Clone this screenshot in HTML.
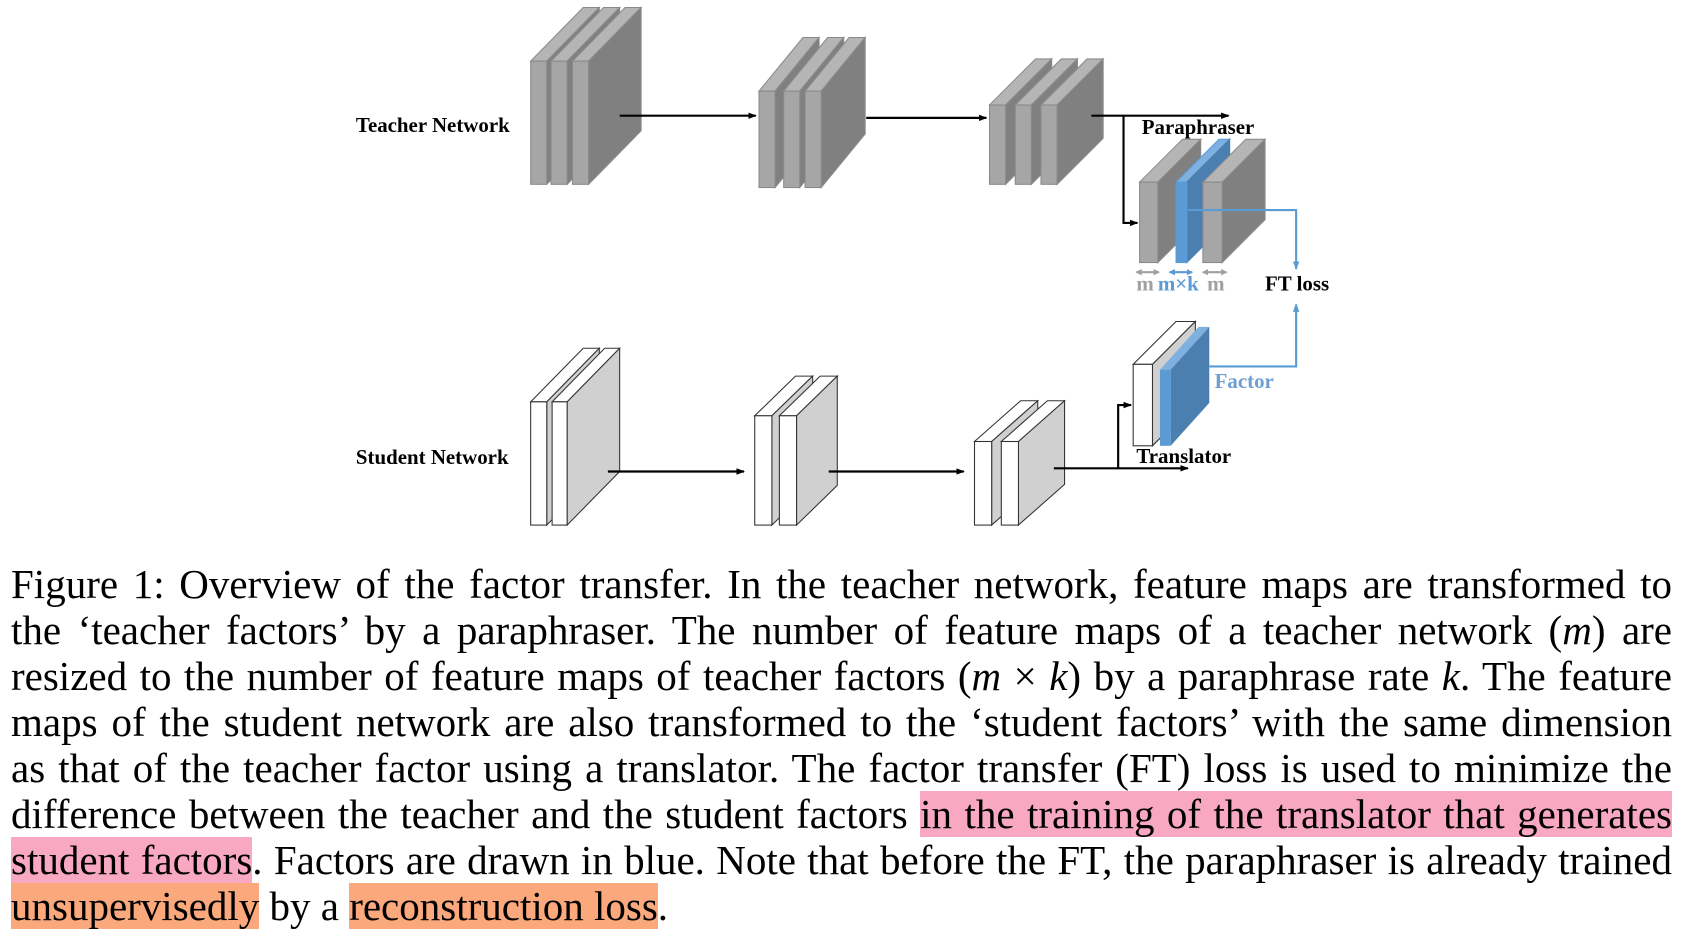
<!DOCTYPE html>
<html><head><meta charset="utf-8"><style>
html,body{margin:0;padding:0;background:#fff;width:1681px;height:943px;overflow:hidden}
svg{position:absolute;left:0;top:0}
.cap{position:absolute;left:11px;top:561px;width:1661px;font-family:"Liberation Serif",serif;font-size:41px;line-height:46px;color:#000}
.l{display:block;text-align:justify;text-align-last:justify;white-space:nowrap;height:46px}
.last{text-align-last:left}
.pk{background:#f9a8c2}.or{background:#fba97c}
</style></head><body>
<svg width="1681" height="943" viewBox="0 0 1568 880" preserveAspectRatio="none" font-family="Liberation Serif,serif" font-weight="bold">
<defs>
<marker id="ab" markerWidth="8" markerHeight="8" refX="7" refY="4" orient="auto" markerUnits="userSpaceOnUse"><path d="M0,1 L8,4 L0,7z" fill="#000"/></marker>
<marker id="ablue" markerWidth="8" markerHeight="8" refX="7" refY="4" orient="auto" markerUnits="userSpaceOnUse"><path d="M0,1 L8,4 L0,7z" fill="#5b9bd5"/></marker>
<marker id="sg" markerWidth="6" markerHeight="6" refX="5" refY="3" orient="auto-start-reverse" markerUnits="userSpaceOnUse"><path d="M0,0 L6,3 L0,6z" fill="#a0a0a0"/></marker>
<marker id="sb" markerWidth="6" markerHeight="6" refX="5" refY="3" orient="auto-start-reverse" markerUnits="userSpaceOnUse"><path d="M0,0 L6,3 L0,6z" fill="#5b9bd5"/></marker>
</defs>
<g stroke="#8a8a8a" stroke-width="1">
<path d="M495,57 l49,-50 h15 l-49,50z" fill="#b5b5b5"/><path d="M510,57 l49,-50 v115 l-49,50z" fill="#808080"/><rect x="495" y="57" width="15" height="115" fill="#a6a6a6"/>
<path d="M514,57 l49,-50 h15 l-49,50z" fill="#b5b5b5"/><path d="M529,57 l49,-50 v115 l-49,50z" fill="#808080"/><rect x="514" y="57" width="15" height="115" fill="#a6a6a6"/>
<path d="M534,57 l49,-50 h15 l-49,50z" fill="#b5b5b5"/><path d="M549,57 l49,-50 v115 l-49,50z" fill="#808080"/><rect x="534" y="57" width="15" height="115" fill="#a6a6a6"/>
<path d="M708,85 l41,-50 h15 l-41,50z" fill="#b5b5b5"/><path d="M723,85 l41,-50 v90 l-41,50z" fill="#808080"/><rect x="708" y="85" width="15" height="90" fill="#a6a6a6"/>
<path d="M731,85 l41,-50 h15 l-41,50z" fill="#b5b5b5"/><path d="M746,85 l41,-50 v90 l-41,50z" fill="#808080"/><rect x="731" y="85" width="15" height="90" fill="#a6a6a6"/>
<path d="M751,85 l41,-50 h15 l-41,50z" fill="#b5b5b5"/><path d="M766,85 l41,-50 v90 l-41,50z" fill="#808080"/><rect x="751" y="85" width="15" height="90" fill="#a6a6a6"/>
<path d="M923,98 l43,-43 h15 l-43,43z" fill="#b5b5b5"/><path d="M938,98 l43,-43 v74 l-43,43z" fill="#808080"/><rect x="923" y="98" width="15" height="74" fill="#a6a6a6"/>
<path d="M947,98 l43,-43 h15 l-43,43z" fill="#b5b5b5"/><path d="M962,98 l43,-43 v74 l-43,43z" fill="#808080"/><rect x="947" y="98" width="15" height="74" fill="#a6a6a6"/>
<path d="M971,98 l43,-43 h15 l-43,43z" fill="#b5b5b5"/><path d="M986,98 l43,-43 v74 l-43,43z" fill="#808080"/><rect x="971" y="98" width="15" height="74" fill="#a6a6a6"/>
<path d="M1063,170 l40,-40 h17 l-40,40z" fill="#b5b5b5"/><path d="M1080,170 l40,-40 v75 l-40,40z" fill="#808080"/><rect x="1063" y="170" width="17" height="75" fill="#a6a6a6"/>
<path d="M1097,170 l40,-40 h10 l-40,40z" fill="#7eb0e0" stroke="#5b9bd5"/><path d="M1107,170 l40,-40 v75 l-40,40z" fill="#4a7fb0" stroke="#4a7fb0"/><rect x="1097" y="170" width="10" height="75" fill="#5b9bd5" stroke="#5b9bd5"/>
<path d="M1122,170 l40,-40 h18 l-40,40z" fill="#b5b5b5"/><path d="M1140,170 l40,-40 v75 l-40,40z" fill="#808080"/><rect x="1122" y="170" width="18" height="75" fill="#a6a6a6"/>
</g>
<g stroke="#333" stroke-width="1">
<path d="M495,375 l49,-50 h15 l-49,50z" fill="#fff"/><path d="M510,375 l49,-50 v115 l-49,50z" fill="#d0d0d0"/><rect x="495" y="375" width="15" height="115" fill="#fff"/>
<path d="M515,375 l49,-50 h14 l-49,50z" fill="#fff"/><path d="M529,375 l49,-50 v115 l-49,50z" fill="#d0d0d0"/><rect x="515" y="375" width="14" height="115" fill="#fff"/>
<path d="M704,388 l38,-37 h16 l-38,37z" fill="#fff"/><path d="M720,388 l38,-37 v102 l-38,37z" fill="#d0d0d0"/><rect x="704" y="388" width="16" height="102" fill="#fff"/>
<path d="M727,388 l38,-37 h16 l-38,37z" fill="#fff"/><path d="M743,388 l38,-37 v102 l-38,37z" fill="#d0d0d0"/><rect x="727" y="388" width="16" height="102" fill="#fff"/>
<path d="M909,412 l43,-38 h16 l-43,38z" fill="#fff"/><path d="M925,412 l43,-38 v78 l-43,38z" fill="#d0d0d0"/><rect x="909" y="412" width="16" height="78" fill="#fff"/>
<path d="M934,412 l43,-38 h16 l-43,38z" fill="#fff"/><path d="M950,412 l43,-38 v78 l-43,38z" fill="#d0d0d0"/><rect x="934" y="412" width="16" height="78" fill="#fff"/>
<path d="M1057,340 l40,-40 h18 l-40,40z" fill="#fff"/><path d="M1075,340 l40,-40 v76 l-40,40z" fill="#d0d0d0"/><rect x="1057" y="340" width="18" height="76" fill="#fff"/>
</g>
<path d="M1082,345 l36,-40 h10 l-36,40z" fill="#7eb0e0"/><path d="M1092,345 l36,-40 v71 l-36,40z" fill="#4a7fb0"/><rect x="1082" y="345" width="10" height="71" fill="#5b9bd5"/>
<g stroke="#000" stroke-width="2" fill="none">
<line x1="578" y1="108" x2="705" y2="108" marker-end="url(#ab)"/>
<line x1="808" y1="110" x2="920" y2="110" marker-end="url(#ab)"/>
<line x1="1018" y1="108" x2="1146" y2="108" marker-end="url(#ab)"/>
<polyline points="1048,108 1048,208 1061,208" marker-end="url(#ab)"/>
<line x1="567" y1="440" x2="694" y2="440" marker-end="url(#ab)"/>
<line x1="773" y1="440" x2="899" y2="440" marker-end="url(#ab)"/>
<line x1="983" y1="437" x2="1108" y2="437" marker-end="url(#ab)"/>
<polyline points="1043,437 1043,378 1055,378" marker-end="url(#ab)"/>
</g>
<g stroke="#5b9bd5" stroke-width="2" fill="none">
<polyline points="1108,196 1209,196 1209,251" marker-end="url(#ablue)"/>
<polyline points="1128,342 1209,342 1209,284" marker-end="url(#ablue)"/>
<line x1="1091" y1="254" x2="1112" y2="254" marker-start="url(#sb)" marker-end="url(#sb)"/>
</g>
<g stroke="#a0a0a0" stroke-width="2"><line x1="1060" y1="254" x2="1081" y2="254" marker-start="url(#sg)" marker-end="url(#sg)"/><line x1="1122" y1="254" x2="1144" y2="254" marker-start="url(#sg)" marker-end="url(#sg)"/></g>
<g font-size="19.5">
<text x="332" y="123">Teacher Network</text>
<text x="332" y="433">Student Network</text>
<text x="1065" y="125">Paraphraser</text>
<text x="1060" y="432">Translator</text>
<text x="1180" y="271">FT loss</text>
<text x="1133" y="362" fill="#6d9fd2">Factor</text>
<text x="1060" y="271" fill="#a0a0a0">m</text>
<text x="1080" y="271" fill="#5b9bd5">m×k</text>
<text x="1126" y="271" fill="#a0a0a0">m</text>
</g>
</svg>
<div class="cap">
<span class="l">Figure 1: Overview of the factor transfer. In the teacher network, feature maps are transformed to</span>
<span class="l">the ‘teacher factors’ by a paraphraser. The number of feature maps of a teacher network (<i>m</i>) are</span>
<span class="l">resized to the number of feature maps of teacher factors (<i>m</i> × <i>k</i>) by a paraphrase rate <i>k</i>. The feature</span>
<span class="l">maps of the student network are also transformed to the ‘student factors’ with the same dimension</span>
<span class="l">as that of the teacher factor using a translator. The factor transfer (FT) loss is used to minimize the</span>
<span class="l">difference between the teacher and the student factors <span class="pk">in the training of the translator that generates</span></span>
<span class="l"><span class="pk">student factors</span>. Factors are drawn in blue. Note that before the FT, the paraphraser is already trained</span>
<span class="l last"><span class="or">unsupervisedly</span> by a <span class="or">reconstruction loss</span>.</span>
</div>
</body></html>
